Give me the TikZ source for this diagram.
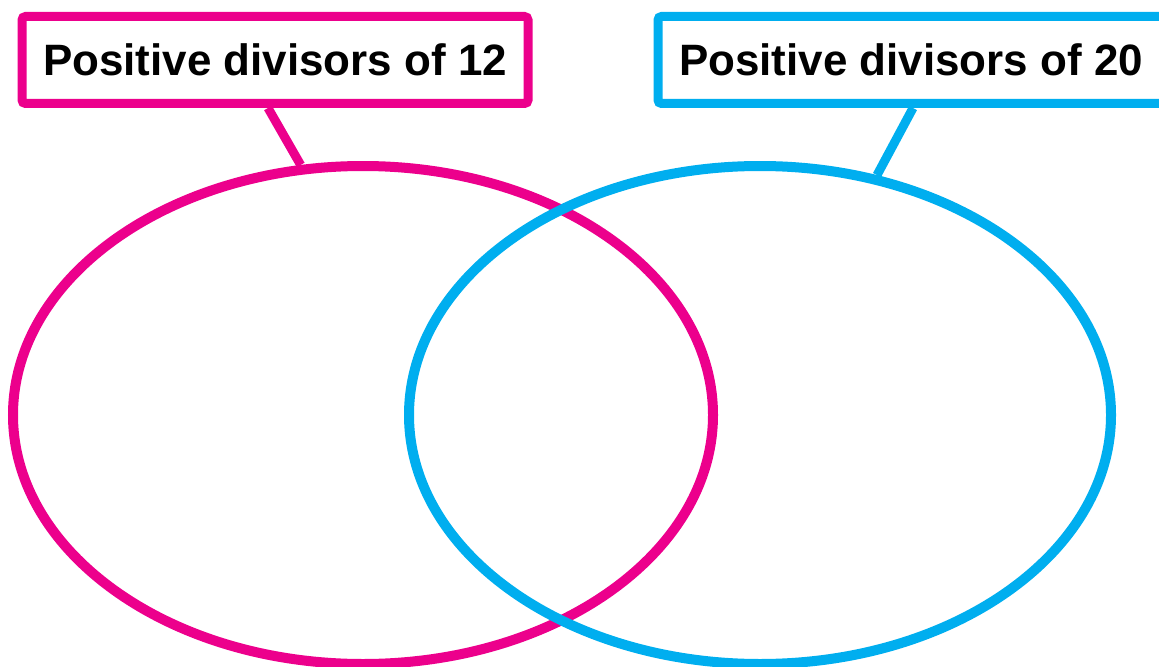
\documentclass[tikz,border=0pt]{standalone}
\usepackage{fontspec}
\setmainfont{Liberation Sans}
\usepackage{xcolor}
\usepackage{tikz}
\usetikzlibrary{shapes.geometric, positioning, calc}
\definecolor{setpink}{HTML}{EC008C}
\definecolor{setblue}{HTML}{00AEEF}
\tikzset{
  %% Set label box
  lbox/.style={
    rectangle, rounded corners=2pt,
    draw=#1, fill=white,
    minimum width=10.12cm, minimum height=1.74cm,
    text centered, inner sep=0pt,
    font=\fontsize{25}{30}\selectfont\bfseries,
    line width=0.18cm
  },
  lbox/.default=setpink,
  %% Venn set
  vset/.style={
    ellipse, draw=#1, inner sep=0pt,
    minimum height=9.96cm,
    line width=0.2cm
  },
  vset/.default=setpink,
  %% Tie from label to set
  tie/.style={draw=#1, line width=0.18cm},
}

\begin{document}
\begin{tikzpicture}

  \useasboundingbox (0,0) rectangle (23.18,-13.34);

  %% ---- Sets ----
  \node[vset=setpink, minimum width=14.0cm] (set12) at (7.26,-8.30) {};
  \node[vset=setblue, minimum width=14.04cm] (set20) at (15.20,-8.30) {};

  %% ---- Labels ----
  \node[lbox=setpink] (box12) at (5.50,-1.20) {Positive divisors of 12};
  \node[lbox=setblue] (box20) at (18.22,-1.20) {Positive divisors of 20};

  \draw[tie=setpink] ($(box12.south)+(-0.14,0)$) -- (set12.104);
  \draw[tie=setblue] ($(box20.south)+(0.04,0)$) -- (set20.64);

\end{tikzpicture}
\end{document}
